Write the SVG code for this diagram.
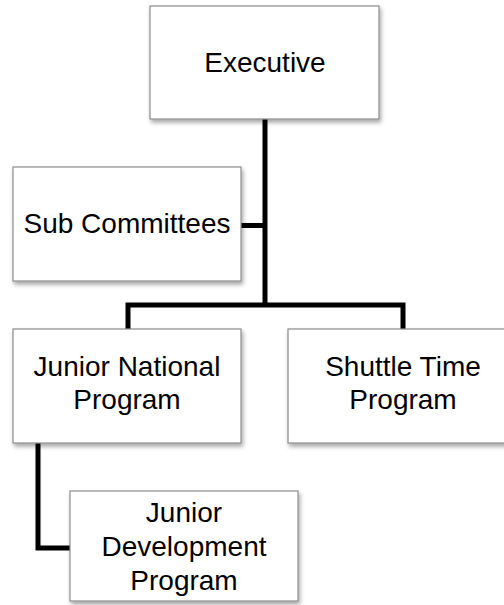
<svg xmlns="http://www.w3.org/2000/svg" width="504" height="605" viewBox="0 0 504 605">
<style>
.box{fill:#fff;stroke:#8c8c8c;stroke-width:1.2;filter:url(#sh)}
.t{font-family:"Liberation Sans",Arial,sans-serif;font-size:28px;fill:#000;text-anchor:middle}
.c{fill:none;stroke:#000;stroke-width:5;stroke-linejoin:miter}
</style>
<defs>
<filter id="sh" x="-10%" y="-10%" width="125%" height="130%">
<feDropShadow dx="1.5" dy="3" stdDeviation="2" flood-color="#000" flood-opacity="0.35"/>
</filter>
</defs>
<g id="connectors">
<path class="c" d="M265 119 V305"/>
<path class="c" d="M241 225.5 H265"/>
<path class="c" d="M128 329 V305 H403 V329"/>
<path class="c" d="M38 443 V548 H70"/>
</g>
<g id="executive">
<rect class="box" x="150" y="6" width="229" height="113"/>
<text class="t" x="265" y="72">Executive</text>
</g>
<g id="sub-committees">
<rect class="box" x="13" y="167" width="228" height="114"/>
<text class="t" x="127" y="233">Sub Committees</text>
</g>
<g id="junior-national">
<rect class="box" x="13" y="329" width="228" height="114"/>
<text class="t" x="127" y="376">Junior National</text>
<text class="t" x="127" y="409">Program</text>
</g>
<g id="shuttle-time">
<rect class="box" x="288" y="329" width="228" height="114"/>
<text class="t" x="403" y="376">Shuttle Time</text>
<text class="t" x="403" y="409">Program</text>
</g>
<g id="junior-development">
<rect class="box" x="70" y="491" width="228" height="110"/>
<text class="t" x="184" y="522">Junior</text>
<text class="t" x="184" y="556">Development</text>
<text class="t" x="184" y="590">Program</text>
</g>
</svg>
